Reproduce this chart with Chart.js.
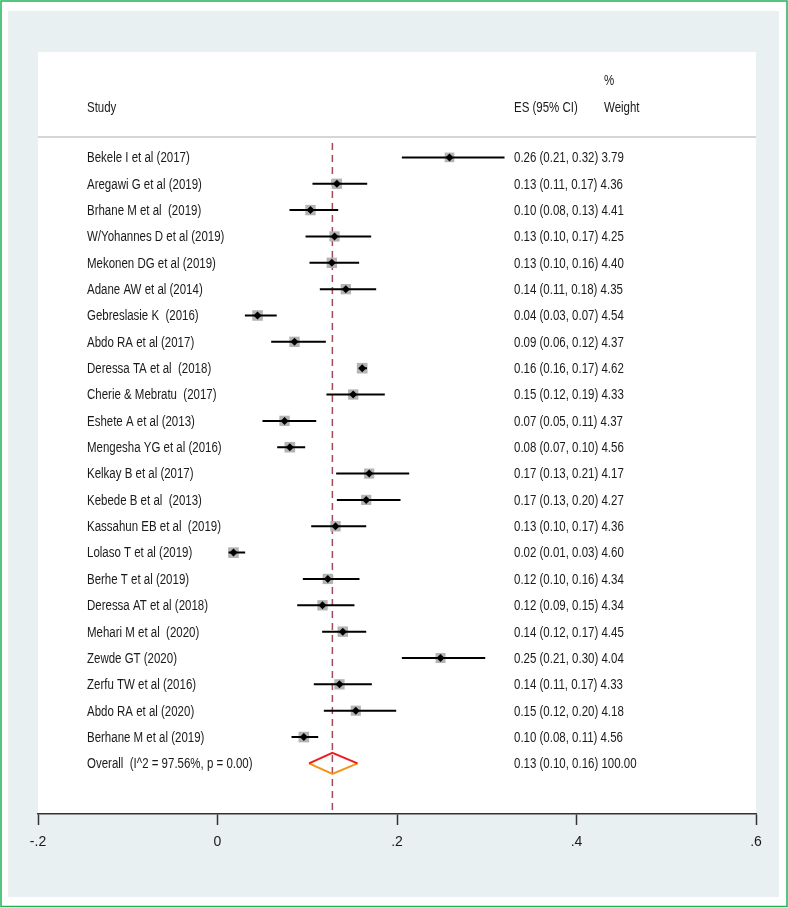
<!DOCTYPE html>
<html>
<head>
<meta charset="utf-8">
<script src="https://cdn.jsdelivr.net/npm/chart.js@4"></script>
<style>
  html, body { margin: 0; padding: 0; background: #fff; }
  #wrap { width: 788px; height: 908px; position: relative; }
</style>
</head>
<body>
<div id="wrap"><canvas id="forest"></canvas></div>
<script>
// forest plot data
const studies = [
  "Bekele I et al (2017)", "Aregawi G et al (2019)", "Brhane M et al  (2019)",
  "W/Yohannes D et al (2019)", "Mekonen DG et al (2019)", "Adane AW et al (2014)",
  "Gebreslasie K  (2016)", "Abdo RA et al (2017)", "Deressa TA et al  (2018)",
  "Cherie & Mebratu  (2017)", "Eshete A et al (2013)", "Mengesha YG et al (2016)",
  "Kelkay B et al (2017)", "Kebede B et al  (2013)", "Kassahun EB et al  (2019)",
  "Lolaso T et al (2019)", "Berhe T et al (2019)", "Deressa AT et al (2018)",
  "Mehari M et al  (2020)", "Zewde GT (2020)", "Zerfu TW et al (2016)",
  "Abdo RA et al (2020)", "Berhane M et al (2019)"
];
const estimates = [0.2585, 0.133, 0.1036, 0.1304, 0.1274, 0.143, 0.0446, 0.0858, 0.1612, 0.1512, 0.0747, 0.0806,
  0.169, 0.1657, 0.1315, 0.0178, 0.1229, 0.117, 0.1396, 0.2485, 0.1359, 0.1541, 0.0962];
const lower = [0.2054, 0.1058, 0.0802, 0.0981, 0.1025, 0.114, 0.0305, 0.0598, 0.158, 0.1214, 0.0501, 0.0665,
  0.1322, 0.133, 0.1044, 0.0123, 0.0951, 0.0888, 0.1166, 0.2054, 0.1073, 0.1185, 0.0825];
const upper = [0.3198, 0.1668, 0.1345, 0.1712, 0.1578, 0.1768, 0.066, 0.1207, 0.1665, 0.1864, 0.11, 0.0977,
  0.2136, 0.2039, 0.1657, 0.0308, 0.1582, 0.1526, 0.1657, 0.2983, 0.172, 0.1991, 0.1122];
const weights = [3.79, 4.36, 4.41, 4.25, 4.40, 4.35, 4.54, 4.37, 4.62, 4.33, 4.37, 4.56,
  4.17, 4.27, 4.36, 4.60, 4.34, 4.34, 4.45, 4.04, 4.33, 4.18, 4.56];

const overallLabel = "Overall  (I^2 = 97.56%, p = 0.00)";
const overallEs = 0.128;
const overallLo = 0.102;
const overallHi = 0.156;
const overallWeight = 100;

const xTicks = [-0.2, 0, 0.2, 0.4, 0.6];

const nRows = studies.length;          // overall row sits just below the studies
const FONT = '"Liberation Sans", Arial, sans-serif';
const TEXT = "#1a1a1a";

function ciText(es, lo, hi, w) {
  return es.toFixed(2) + " (" + lo.toFixed(2) + ", " + hi.toFixed(2) + ") " + w.toFixed(2);
}

// narrow text like the Stata graph font
function narrowText(ctx, str, x, y, size) {
  ctx.save();
  ctx.font = size + "px " + FONT;
  ctx.fillStyle = TEXT;
  ctx.textBaseline = "middle";
  ctx.translate(x, y);
  ctx.scale(0.82, 1);
  ctx.fillText(str, 0, 0);
  ctx.restore();
}

const framePlugin = {
  id: "frame",
  beforeDraw(chart) {
    const { ctx, chartArea: a, width, height } = chart;
    ctx.save();
    ctx.fillStyle = "#fff";
    ctx.fillRect(0, 0, width, height);
    ctx.fillStyle = "#e9f0f2";
    ctx.fillRect(8, 11, 771, 886);
    ctx.strokeStyle = "#1fb356";
    ctx.lineWidth = 1.5;
    ctx.strokeRect(1, 1, width - 2, height - 2.5);
    ctx.fillStyle = "#fff";
    ctx.fillRect(a.left, a.top, a.right - a.left, a.bottom - a.top);
    ctx.restore();
  },
  beforeDatasetsDraw(chart) {
    const { ctx, chartArea: a } = chart;
    const x = chart.scales.x;
    const sepY = a.top + 85;
    ctx.save();
    // header separator
    ctx.strokeStyle = "#c8c8c8";
    ctx.lineWidth = 1.5;
    ctx.beginPath();
    ctx.moveTo(a.left, sepY);
    ctx.lineTo(a.right, sepY);
    ctx.stroke();
    // overall effect reference line
    const px = x.getPixelForValue(overallEs);
    ctx.strokeStyle = "#a34b5c";
    ctx.lineWidth = 1.5;
    ctx.setLineDash([7, 5]);
    ctx.beginPath();
    ctx.moveTo(px, sepY + 6);
    ctx.lineTo(px, a.bottom);
    ctx.stroke();
    ctx.restore();
  },
  afterDatasetsDraw(chart) {
    const { ctx, chartArea: a } = chart;
    const y = chart.scales.y;
    const colStudy = 87, colEs = 514, colW = 604;
    // headers
    narrowText(ctx, "Study", colStudy, a.top + 56, 14);
    narrowText(ctx, "ES (95% CI)", colEs, a.top + 56, 14);
    narrowText(ctx, "%", colW, a.top + 29, 14);
    narrowText(ctx, "Weight", colW, a.top + 56, 14);
    // rows
    studies.forEach((s, i) => {
      const py = y.getPixelForValue(i) + 1;
      narrowText(ctx, s, colStudy, py, 14);
      narrowText(ctx, ciText(estimates[i], lower[i], upper[i], weights[i]), colEs, py, 14);
    });
    const oy = y.getPixelForValue(nRows) + 1;
    narrowText(ctx, overallLabel, colStudy, oy, 14);
    narrowText(ctx, ciText(overallEs, overallLo, overallHi, overallWeight), colEs, oy, 14);
  }
};

const boxData = studies.map((s, i) => ({ x: estimates[i], y: i, w: weights[i] }));
const pointData = studies.map((s, i) => ({ x: estimates[i], y: i }));
const ciData = studies.flatMap((s, i) => [
  { x: lower[i], y: i },
  { x: upper[i], y: i },
  { x: null, y: null }
]);

new Chart(document.getElementById("forest"), {
  type: "scatter",
  data: {
    datasets: [
      {
        label: "estimate",
        data: pointData,
        pointStyle: "rectRot",
        pointRadius: 4,
        backgroundColor: "#000",
        borderWidth: 0,
        order: 0
      },
      {
        type: "line",
        label: "ci",
        data: ciData,
        borderColor: "#000",
        borderWidth: 2,
        pointRadius: 0,
        spanGaps: false,
        fill: false,
        order: 1
      },
      {
        label: "weight",
        data: boxData,
        pointStyle: "rect",
        pointRadius: (c) => 3.5 * Math.sqrt(c.raw ? c.raw.w : 4),
        backgroundColor: "#b3b3b3",
        borderWidth: 0,
        order: 2
      },
      {
        type: "line",
        label: "overall upper",
        data: [
          { x: overallLo, y: nRows },
          { x: overallEs, y: nRows - 0.4 },
          { x: overallHi, y: nRows }
        ],
        borderColor: "#ee1c1c",
        borderWidth: 2,
        pointRadius: 0,
        fill: false,
        order: 1
      },
      {
        type: "line",
        label: "overall lower",
        data: [
          { x: overallLo, y: nRows },
          { x: overallEs, y: nRows + 0.4 },
          { x: overallHi, y: nRows }
        ],
        borderColor: "#f39419",
        borderWidth: 2,
        pointRadius: 0,
        fill: false,
        order: 1
      }
    ]
  },
  options: {
    responsive: true,
    maintainAspectRatio: false,
    animation: false,
    events: [],
    layout: { padding: { left: 38, right: 32, top: 52, bottom: 34 } },
    plugins: {
      legend: { display: false },
      tooltip: { enabled: false }
    },
    scales: {
      x: {
        type: "linear",
        min: -0.2,
        max: 0.6,
        afterBuildTicks: (scale) => {
          scale.ticks = xTicks.map((v) => ({ value: v }));
        },
        afterFit: (scale) => {
          scale.height = 60;
        },
        grid: {
          drawOnChartArea: false,
          drawTicks: true,
          tickLength: 11,
          tickColor: "#333",
          tickWidth: 1.5
        },
        border: { display: true, color: "#333", width: 1.5 },
        ticks: {
          padding: 9,
          color: TEXT,
          font: { family: FONT, size: 14 },
          maxRotation: 0,
          autoSkip: false,
          callback: (v) => {
            const s = Number(v.toFixed(1)).toString();
            return s.replace("0.", ".");
          }
        }
      },
      y: {
        type: "linear",
        display: false,
        reverse: true,
        min: -4,
        max: 24.92
      }
    }
  },
  plugins: [framePlugin]
});
</script>
</body>
</html>
